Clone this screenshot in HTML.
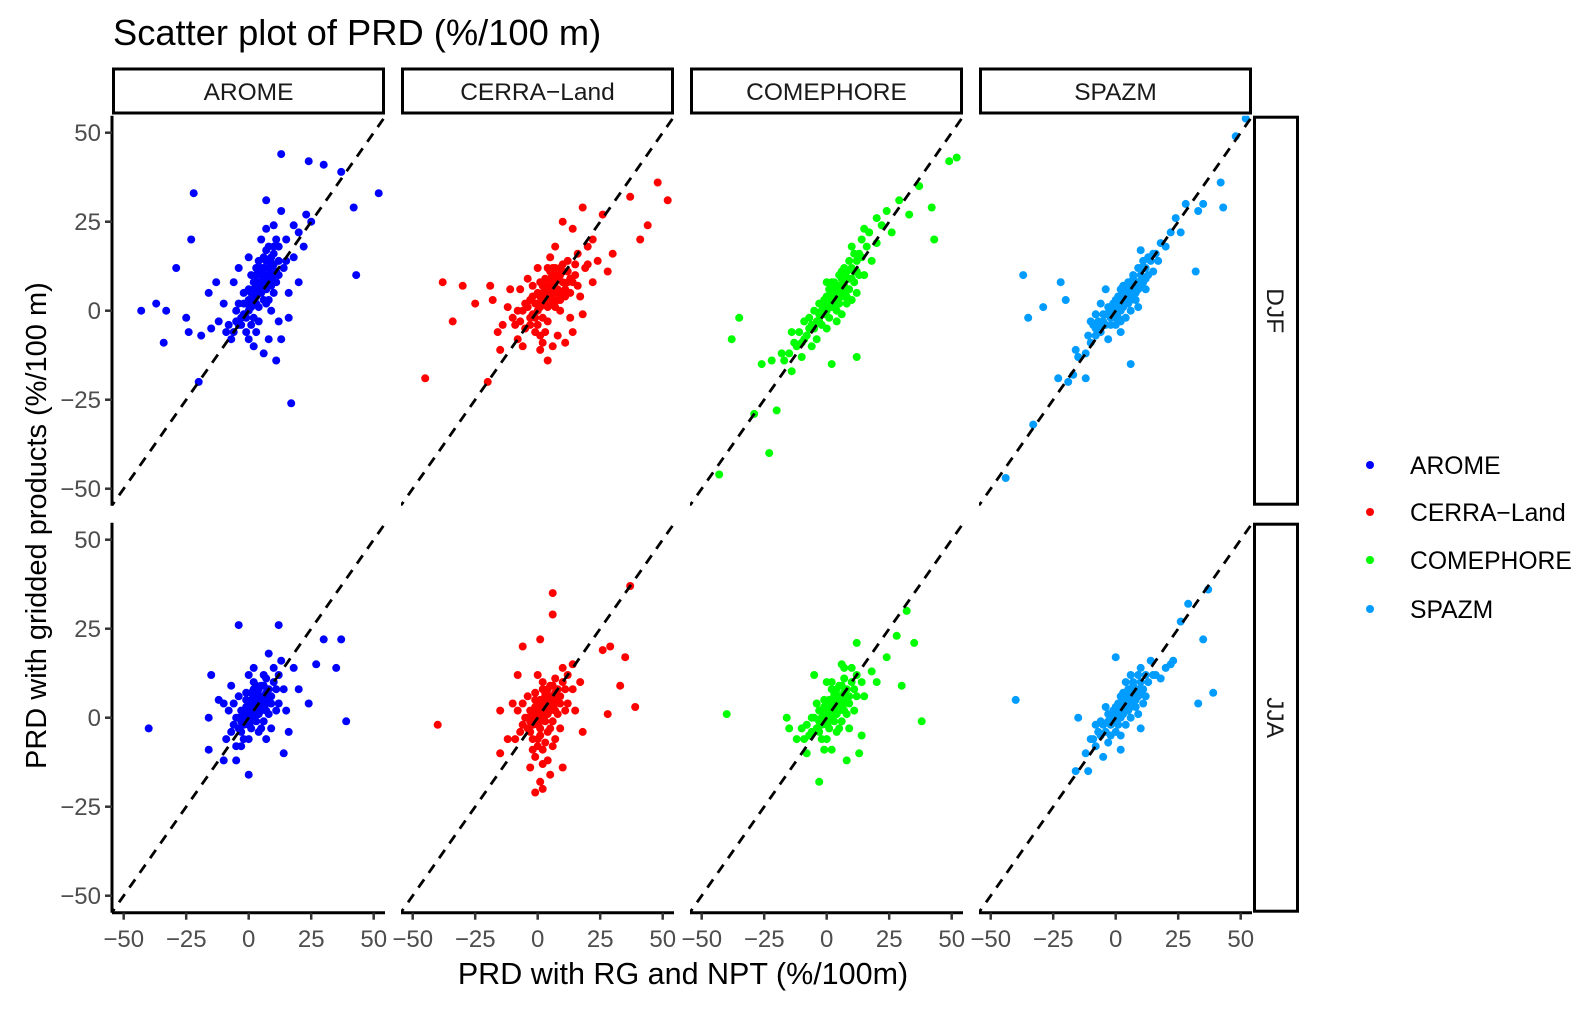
<!DOCTYPE html>
<html><head><meta charset="utf-8">
<style>
html,body{margin:0;padding:0;background:#fff;}
svg text{font-family:"Liberation Sans",Arial,sans-serif;}
</style></head>
<body>
<svg id="chart" xmlns="http://www.w3.org/2000/svg" width="1591" height="1006" viewBox="0 0 1591 1006">
<rect x="0" y="0" width="1591" height="1006" fill="#fff"/>
<text x="113" y="45" font-size="36.3" fill="#000">Scatter plot of PRD (%/100 m)</text>
<text x="683" y="984" font-size="30.5" text-anchor="middle" fill="#000">PRD with RG and NPT (%/100m)</text>
<text transform="translate(46,769) rotate(-90)" x="0" y="0" font-size="29" fill="#000">PRD with gridded products (%/100 m)</text>
<g id="panels"></g>
<g id="legend"></g>
</svg>
<script>
const products = ["AROME","CERRA\u2212Land","COMEPHORE","SPAZM"];
const seasons = ["DJF","JJA"];
const colors = ["#0000FF","#FF0000","#00FF00","#009CFF"];
const xTicks = [-50,-25,0,25,50];
const yTicks = [-50,-25,0,25,50];
const xTickLabels = ["\u221250","\u221225","0","25","50"];
const yTickLabels = ["\u221250","\u221225","0","25","50"];

const aromeDJF = [[13,44],[24,42],[30,41],[37,39],[52,33],[42,29],[-22,33],[-23,20],[-29,12],[-43,0],[-37,2],[-33,0],[-34,-9],[-20,-20],[17,-26],[43,10],[7,31],[23,27],[18,24],[-25,-2],[-19,-7],[-24,-6],
[0,0],[2,3],[5,5],[8,8],[10,10],[-3,-2],[-5,0],[3,8],[6,12],[9,15],[12,18],[7,2],[4,-3],[-2,5],[1,10],[10,5],[14,12],[-8,-4],[-10,2],[-12,-3],[-6,8],[3,-6],[8,-8],[12,-3],[15,20],[18,15],[20,22],[5,20],[0,15],[-4,12],[-15,-5],[-16,5],[6,-12],[11,-14],[2,-10],[16,5],[20,8],[22,18],[25,25],[-1,-6],[7,23],[13,28],[-7,-8],[4,14],[9,0],[11,8],[6,6],[-2,-1],[3,2],[8,3],[-13,8],[16,-2],[10,24],[13,-8],[5,10],[7,14],[9,12],[4,8],[6,3],[1,5],[-1,2],[2,-2],[10,16],[12,10],[-9,-6],[-4,-4],[15,14],[3,12],[8,18],[0,-8],
[1,1],[3,4],[4,6],[6,9],[7,10],[8,12],[9,9],[10,13],[11,11],[5,7],[2,6],[0,3],[-1,-2],[-3,-4],[-2,2],[4,1],[6,8],[7,6],[8,10],[9,7],[5,12],[3,10],[6,15],[8,14],[10,18],[11,20],[7,17],[-5,-3],[-6,-6],[1,-4],[12,14],[2,8],[4,11],[-4,2],[0,6]];
const cerraDJF = [[-38,8],[-45,-19],[-20,-20],[4,-14],[37,32],[48,36],[52,31],[41,20],[44,24],[18,29],[26,27],[14,23],[-34,-3],[-30,7],[-19,7],[28,11],[-25,2],[-15,-11],[22,20],[30,16],[10,25],[20,13],
[0,0],[2,2],[5,4],[8,6],[10,8],[-3,-2],[-6,0],[3,6],[6,10],[9,12],[12,14],[7,1],[4,-3],[-2,4],[1,8],[11,4],[15,10],[-9,-4],[-12,1],[-14,-4],[-7,6],[3,-6],[8,-7],[13,-2],[16,16],[19,12],[5,15],[0,12],[-4,9],[-16,-6],[-18,3],[6,-10],[2,-9],[17,4],[22,8],[-1,-6],[7,18],[-8,-8],[4,12],[9,0],[12,8],[6,5],[-2,-1],[3,2],[8,3],[-11,6],[18,-1],[14,-6],[5,9],[7,12],[9,10],[4,7],[6,2],[1,4],[-1,2],[2,-2],[10,13],[13,9],[-5,-5],[15,13],[0,-4],[-6,-10],[1,-11],[-10,-2],[20,18],[24,14],[-3,3],[11,-9],
[1,1],[3,3],[4,5],[6,7],[7,8],[8,10],[9,5],[10,11],[11,6],[5,6],[2,5],[0,2],[-1,-2],[-3,-4],[-4,1],[4,1],[6,3],[7,5],[8,9],[9,3],[5,11],[3,9],[6,12],[12,11],[13,5],[-5,2],[-7,-3],[1,-7],[14,8],[2,7],[-2,7],[0,5],[-8,0],[16,7]];
const comeDJF = [[-43,-46],[-23,-40],[-20,-28],[-29,-29],[-38,-8],[-35,-2],[49,42],[52,43],[37,35],[29,31],[42,29],[43,20],[24,28],[-22,-14],[-18,-12],[12,-13],[2,-15],[15,23],[-26,-15],[-14,-17],[20,26],[26,22],[33,27],[-10,-13],
[0,0],[2,3],[4,5],[6,7],[8,9],[10,12],[12,14],[14,15],[16,18],[-2,-1],[-4,-3],[-6,-4],[-8,-7],[-10,-9],[-12,-10],[-15,-12],[1,-2],[3,1],[5,2],[7,4],[9,6],[11,8],[13,10],[-1,3],[1,6],[3,8],[5,10],[7,12],[9,14],[11,16],[-3,2],[-5,0],[-7,-2],[0,-5],[4,-3],[8,2],[6,-1],[15,10],[18,14],[20,19],[-9,-3],[-11,-6],[-13,-9],[17,22],[22,24],[10,3],[-4,-8],[-6,-10],[2,8],[0,4],[-2,-4],[4,2],[6,4],[8,6],[3,5],[5,7],[7,9],[-17,-14],[-14,-6],[12,5],[14,20],[0,8],[10,18],
[1,1],[3,3],[5,5],[7,7],[9,9],[11,11],[-1,-1],[-3,-3],[-5,-5],[2,5],[4,7],[6,9],[8,11],[10,9],[12,11],[-1,1],[-3,-1],[1,3],[3,6],[5,4],[7,5],[0,2],[2,1],[-2,0],[6,11],[8,4],[4,0],[13,16],[-7,-5],[-9,-8]];
const spazmDJF = [[-44,-47],[-33,-32],[52,54],[48,49],[42,36],[43,29],[35,30],[32,11],[-37,10],[-35,-2],[-29,1],[-22,8],[-20,3],[6,-15],[-12,-19],[-23,-19],[-16,-11],[33,28],[26,22],[-19,-20],[-17,-18],[-15,-13],[22,22],[24,26],[28,30],[10,17],[13,15],
[0,0],[2,2],[4,4],[6,6],[8,8],[10,10],[12,12],[14,14],[16,16],[18,19],[-2,-2],[-4,-4],[-6,-6],[-8,-7],[-10,-9],[1,-2],[3,1],[5,2],[7,4],[9,6],[11,8],[13,10],[-1,2],[1,4],[3,7],[5,8],[7,10],[9,12],[11,14],[-3,1],[-5,-1],[-7,-3],[0,-4],[4,-2],[8,3],[6,0],[15,11],[17,14],[20,18],[-9,-4],[-11,-7],[2,6],[0,3],[-2,-4],[4,3],[6,4],[8,6],[3,4],[5,6],[7,8],[-6,2],[-4,6],[-8,-1],[-10,-3],[12,6],[9,1],[2,-6],[-3,-8],[-12,-12],[15,16],[-1,-1],[1,1],[3,3],
[1,2],[2,4],[3,5],[4,6],[5,7],[6,8],[7,9],[2,0],[4,2],[6,3],[8,5],[10,7],[0,1],[-1,0],[-3,-1],[-2,1],[1,3],[3,2],[5,4],[7,6],[9,8],[-5,-3],[-4,-1],[0,-2],[2,-3],[10,12],[12,9],[-6,-4],[-8,-5]];
const aromeJJA = [[-40,-3],[-4,26],[12,26],[30,22],[37,22],[39,-1],[35,14],[27,15],[24,4],[0,-16],[-16,-9],[-16,0],[-12,5],[-15,12],[-5,-12],[14,-10],[20,8],[18,14],[-10,-12],[-7,9],[8,18],[13,16],[-3,-8],[16,-4],
[0,0],[2,2],[4,4],[6,6],[8,8],[10,10],[-2,-2],[-4,-3],[-6,-2],[1,-3],[3,1],[5,2],[7,4],[9,6],[11,8],[-1,3],[1,5],[3,7],[5,9],[7,11],[-3,2],[-5,0],[-7,-4],[0,-6],[4,-4],[8,1],[6,-1],[12,4],[14,8],[-8,2],[-9,-6],[2,8],[0,4],[-2,-6],[4,3],[6,5],[3,4],[5,6],[-6,4],[-4,6],[10,14],[12,12],[2,10],[0,12],[-1,7],[9,-3],[11,2],[-3,-4],[1,1],[3,-1],[5,-3],[7,-6],[-10,4],[15,2],[2,14],[6,12],[-5,-8],
[1,3],[2,5],[3,3],[4,6],[5,4],[6,3],[7,7],[0,2],[-1,1],[-2,0],[1,-1],[2,0],[3,6],[4,8],[5,5],[6,9],[7,2],[8,5],[-1,5],[0,-2],[-3,-1],[2,4],[4,1],[9,4],[-4,0],[1,7],[3,9]];
const cerraJJA = [[-40,-2],[6,35],[6,29],[1,22],[-6,20],[37,37],[29,20],[26,19],[35,17],[33,9],[39,3],[28,1],[-1,-21],[2,-20],[1,-18],[-15,-10],[-15,2],[-12,-6],[14,15],[17,10],[-8,12],[10,-14],[18,-4],[-3,-14],[5,-16],
[0,0],[2,2],[4,4],[6,6],[8,8],[10,10],[-2,-2],[-4,-3],[-6,-2],[1,-3],[3,1],[5,2],[7,4],[9,6],[11,8],[-1,3],[1,5],[3,7],[5,9],[7,11],[-3,2],[-5,0],[-7,-4],[0,-6],[4,-4],[8,1],[6,-1],[12,4],[14,8],[-8,2],[-9,-6],[2,8],[0,4],[-2,-6],[4,3],[6,5],[3,4],[5,6],[-6,4],[-4,6],[10,14],[12,12],[2,10],[0,12],[-1,7],[9,-3],[11,2],[-3,-4],[1,1],[3,-1],[5,-3],[7,-6],[-10,4],[15,2],[2,-9],[-1,-11],[4,-12],[0,-8],[6,-8],
[1,3],[2,5],[3,3],[4,6],[5,4],[6,3],[7,7],[0,2],[-1,1],[-2,0],[1,-1],[2,0],[3,6],[4,8],[5,5],[6,9],[7,2],[8,5],[-1,5],[0,-2],[-3,-1],[2,4],[4,1],[9,4],[-4,0],[1,-5],[3,-7],[-2,-9],[2,-13]];
const comeJJA = [[-40,1],[32,30],[35,21],[28,23],[30,9],[38,-1],[-3,-18],[24,17],[12,21],[2,-9],[13,-10],[-16,0],[-15,-3],[18,13],[-12,-6],[8,-12],[14,-5],[-8,-10],[20,10],[-5,12],[6,15],
[0,0],[2,2],[4,4],[6,6],[8,8],[10,10],[-2,-2],[-4,-3],[-6,-4],[1,-3],[3,1],[5,2],[7,4],[9,6],[11,8],[-1,3],[1,5],[3,7],[5,9],[7,11],[-3,2],[-5,0],[-7,-5],[0,-6],[4,-4],[8,1],[6,-1],[12,6],[14,10],[-8,-2],[-9,-6],[2,8],[0,4],[-2,-6],[4,3],[6,5],[3,4],[5,6],[-6,0],[-4,4],[10,14],[12,12],[2,10],[0,10],[9,-3],[11,2],[-3,-4],[1,1],[3,-1],[5,-3],[-10,-3],[15,6],[7,14],[-1,-9],
[1,3],[2,5],[3,3],[4,6],[5,4],[6,3],[7,7],[0,2],[-1,1],[-2,0],[1,-1],[2,0],[3,6],[4,8],[5,5],[6,9],[7,2],[8,5],[-1,5],[0,-2],[-3,-1],[2,4],[4,1],[9,4]];
const spazmJJA = [[-40,5],[37,36],[29,32],[26,27],[35,22],[39,7],[33,4],[23,16],[-11,-15],[-16,-15],[2,-9],[-15,0],[-5,-11],[20,14],[18,11],[-8,-8],[-10,-6],[14,16],[16,12],[0,17],[10,-3],[-12,-10],[22,15],
[0,0],[2,2],[4,4],[6,6],[8,8],[10,10],[12,12],[-2,-2],[-4,-4],[-6,-5],[1,-2],[3,1],[5,2],[7,4],[9,6],[11,8],[-1,2],[1,4],[3,7],[5,8],[7,10],[9,12],[-3,1],[-5,-2],[-7,-4],[0,-4],[4,-2],[8,3],[6,0],[13,10],[15,12],[-9,-6],[2,6],[0,3],[-2,-5],[4,3],[6,4],[8,6],[3,4],[5,6],[7,8],[-4,3],[-6,-1],[12,6],[9,1],[2,-5],[-3,-7],[-1,-1],[1,1],[3,3],[10,14],[11,4],[-8,-2],[4,10],[6,12],
[1,2],[2,4],[3,5],[4,6],[5,7],[6,8],[7,9],[2,0],[4,2],[6,3],[8,5],[10,7],[0,1],[-1,0],[-3,-1],[-2,1],[1,3],[3,2],[5,4],[7,6],[9,8]];

const seriesByPanel = [[aromeDJF,cerraDJF,comeDJF,spazmDJF],[aromeJJA,cerraJJA,comeJJA,spazmJJA]];

const NS="http://www.w3.org/2000/svg";
function mk(tag, attrs, parent){const e=document.createElementNS(NS,tag);for(const k in attrs)e.setAttribute(k,attrs[k]);if(parent)parent.appendChild(e);return e;}

const panelLeft=[112,401,690,979], panelW=273;
const rowTop=[115.7,522.7], panelH=390;
const xPx=2.5, yPx=3.56;
function xScale(col,v){return panelLeft[col]+136.7+v*xPx;}
function yScale(row,v){return rowTop[row]+195+(-v)*yPx;}
const root=document.getElementById('panels');

const defs=mk('defs',{},root);
for(let r=0;r<2;r++)for(let c=0;c<4;c++){
  const cp=mk('clipPath',{id:'clip'+r+c},defs);
  mk('rect',{x:panelLeft[c],y:rowTop[r],width:panelW,height:panelH},cp);
}

for(let c=0;c<4;c++){
  const g=mk('g',{},root);
  
  
  mk('rect',{x:panelLeft[c]+1.5,y:69,width:panelW-3,height:44,fill:'#fff',stroke:'#000','stroke-width':3},g);
  const t=mk('text',{x:panelLeft[c]+panelW/2,y:100,'font-size':24.5,'text-anchor':'middle',fill:'#1a1a1a'},g);
  t.textContent=products[c];
}
for(let r=0;r<2;r++){
  const g=mk('g',{},root);
  
  
  mk('rect',{x:1254.5,y:rowTop[r]+1.5,width:43,height:panelH-3,fill:'#fff',stroke:'#000','stroke-width':3},g);
  const cy=rowTop[r]+panelH/2;
  const t=mk('text',{x:0,y:0,transform:'translate(1267,'+cy+') rotate(90)','font-size':24.5,'text-anchor':'middle',fill:'#1a1a1a'},g);
  t.textContent=seasons[r];
}

for(let r=0;r<2;r++)for(let c=0;c<4;c++){
  const g=mk('g',{'clip-path':'url(#clip'+r+c+')'},root);
  
  
  const pts=seriesByPanel[r][c];
  for(const p of pts){
    const dot=mk('circle',{cx:xScale(c,p[0]).toFixed(1),cy:yScale(r,p[1]).toFixed(1),r:4,fill:colors[c]},g);
    
    
  }
  const ln=mk('line',{x1:xScale(c,-56),y1:yScale(r,-56),x2:xScale(c,56),y2:yScale(r,56),stroke:'#000','stroke-width':2.8,'stroke-dasharray':'10,8'},g);
  
  
}

for(let r=0;r<2;r++){
  const g=mk('g',{},root);
  
  
  mk('line',{x1:112,y1:rowTop[r],x2:112,y2:rowTop[r]+panelH,stroke:'#000','stroke-width':3},g);
  yTicks.forEach((v,i)=>{
    const y=yScale(r,v);
    mk('line',{x1:105,y1:y,x2:112,y2:y,stroke:'#333','stroke-width':2.5},g);
    const t=mk('text',{x:101,y:y+8.5,'font-size':24,'text-anchor':'end',fill:'#4d4d4d'},g);
    t.textContent=yTickLabels[i];
  });
}
for(let c=0;c<4;c++){
  const g=mk('g',{},root);
  
  
  const yb=rowTop[1]+panelH;
  mk('line',{x1:panelLeft[c],y1:yb,x2:panelLeft[c]+panelW,y2:yb,stroke:'#000','stroke-width':3},g);
  xTicks.forEach((v,i)=>{
    const x=xScale(c,v);
    mk('line',{x1:x,y1:yb,x2:x,y2:yb+7,stroke:'#333','stroke-width':2.5},g);
    const t=mk('text',{x:x,y:947,'font-size':24,'text-anchor':'middle',fill:'#4d4d4d'},g);
    t.textContent=xTickLabels[i];
  });
}

const lg=document.getElementById('legend');
const legY=[465,512,560,609];
products.forEach((p,i)=>{
  const g=mk('g',{},lg);
  
  
  mk('circle',{cx:1370,cy:legY[i],r:4,fill:colors[i]},g);
  const t=mk('text',{x:1410,y:legY[i]+9,'font-size':24.7,fill:'#000'},g);
  t.textContent=p;
});
</script>
</body></html>
